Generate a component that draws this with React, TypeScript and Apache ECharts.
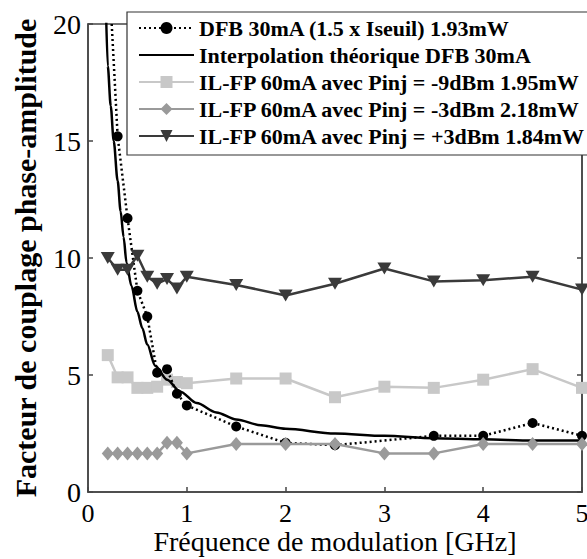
import React, { useEffect, useRef } from 'react';
import * as echarts from 'echarts';

const FONT = 'Liberation Serif';

// DFB 30mA measured points
const dfbFreq = [0.2, 0.3, 0.4, 0.5, 0.6, 0.7, 0.8, 0.9, 1.0, 1.5, 2.0, 2.5, 3.5, 4.0, 4.5, 5.0];
const dfbValues = [23.2, 15.2, 11.7, 8.6, 7.5, 5.1, 5.25, 4.2, 3.7, 2.8, 2.1, 2.0, 2.4, 2.4, 2.95, 2.4];

// Theoretical interpolation curve
const interpFreq = [0.18, 0.2, 0.23, 0.26, 0.3, 0.33, 0.36, 0.39, 0.44, 0.5, 0.55, 0.6, 0.68, 0.8, 0.93, 1.1, 1.3, 1.5, 1.75, 2.0, 2.5, 3.0, 3.5, 4.0, 4.5, 5.0];
const interpValues = [21, 18.2, 16.5, 15.0, 13.3, 12.0, 10.9, 9.8, 8.8, 7.7, 7.0, 6.3, 5.4, 4.8, 4.3, 3.8, 3.4, 3.1, 2.85, 2.7, 2.5, 2.4, 2.3, 2.25, 2.2, 2.2];

// IL-FP 60mA points
const ilfpFreq = [0.2, 0.3, 0.4, 0.5, 0.6, 0.7, 0.8, 0.9, 1.0, 1.5, 2.0, 2.5, 3.0, 3.5, 4.0, 4.5, 5.0];
const ilfpM9 = [5.85, 4.9, 4.9, 4.45, 4.45, 4.5, 4.8, 4.7, 4.65, 4.85, 4.85, 4.05, 4.5, 4.45, 4.8, 5.25, 4.45];
const ilfpM3 = [1.65, 1.65, 1.65, 1.65, 1.65, 1.65, 2.1, 2.1, 1.65, 2.05, 2.05, 2.05, 1.65, 1.65, 2.05, 2.05, 2.05];
const ilfpP3 = [10.0, 9.5, 9.5, 10.1, 9.2, 8.9, 9.1, 8.7, 9.2, 8.85, 8.4, 8.9, 9.55, 9.0, 9.05, 9.2, 8.65];

const names = [
  'DFB 30mA (1.5 x Iseuil) 1.93mW',
  'Interpolation théorique DFB 30mA',
  'IL-FP 60mA avec Pinj = -9dBm 1.95mW',
  'IL-FP 60mA avec Pinj = -3dBm 2.18mW',
  'IL-FP 60mA avec Pinj = +3dBm 1.84mW',
];

const xTitle = 'Fréquence de modulation [GHz]';
const yTitle = 'Facteur de couplage phase-amplitude';

const zip = (xs: number[], ys: number[]) => xs.map((x, i) => [x, ys[i]]);

export default function App() {
  const ref = useRef<HTMLDivElement>(null);
  useEffect(() => {
    const chart = echarts.init(ref.current!, null, { renderer: 'svg' });
    const axisColor = '#444';
    const option: any = {
      animation: false,
      backgroundColor: '#fff',
      textStyle: { fontFamily: FONT },
      grid: {
        left: 88, right: 5, top: 24, bottom: 67,
        show: true, borderColor: axisColor, borderWidth: 1.5,
        outerBoundsMode: 'none',
      },
      legend: {
        orient: 'vertical',
        left: 127,
        top: 12,
        padding: [5, 60, 8, 11],
        itemGap: 5,
        itemWidth: 55,
        itemHeight: 15,
        backgroundColor: '#fff',
        borderColor: '#333',
        borderWidth: 1.2,
        borderRadius: 0,
        align: 'left',
        textStyle: { fontFamily: FONT, fontWeight: 'bold', fontSize: 22, lineHeight: 22, color: '#000' },
        data: [
          { name: names[0] },
          { name: names[1], itemStyle: { opacity: 0 } },
          { name: names[2] },
          { name: names[3] },
          { name: names[4] },
        ],
      },
      xAxis: [{
        type: 'value', min: 0, max: 5, interval: 1,
        axisLine: { show: true, onZero: false, lineStyle: { color: axisColor, width: 1.5 } },
        axisTick: { show: true, inside: true, length: 5, lineStyle: { color: axisColor, width: 1.5 } },
        axisLabel: { fontFamily: FONT, fontSize: 26, lineHeight: 22, color: '#000', margin: 10, showMinLabel: true, showMaxLabel: true },
        splitLine: { show: false },
        name: xTitle,
        nameLocation: 'middle',
        nameGap: 35,
        nameMoveOverlap: false,
        nameTextStyle: { fontFamily: FONT, fontSize: 28, color: '#000' },
      }],
      yAxis: [{
        type: 'value', min: 0, max: 20, interval: 5, position: 'left',
        axisLine: { show: true, onZero: false, lineStyle: { color: axisColor, width: 1.5 } },
        axisTick: { show: true, inside: true, length: 5, lineStyle: { color: axisColor, width: 1.5 } },
        axisLabel: { fontFamily: FONT, fontSize: 28, color: '#000', margin: 7, showMinLabel: true, showMaxLabel: true },
        splitLine: { show: false },
        name: yTitle,
        nameLocation: 'middle',
        nameGap: 48,
        nameMoveOverlap: false,
        nameTextStyle: { fontFamily: FONT, fontSize: 30, fontWeight: 'bold', color: '#000' },
      }, {
        type: 'value', min: 0, max: 20, interval: 5, position: 'right',
        axisLine: { show: true, onZero: false, lineStyle: { color: axisColor, width: 1.5 } },
        axisTick: { show: true, inside: true, length: 5, lineStyle: { color: axisColor, width: 1.5 } },
        axisLabel: { show: false },
        splitLine: { show: false },
      }],
      series: [
        {
          name: names[0], type: 'line', yAxisIndex: 0,
          data: zip(dfbFreq, dfbValues),
          symbol: 'circle', symbolSize: 10,
          lineStyle: { color: '#000', width: 2.5, type: [2, 3] },
          itemStyle: { color: '#000' },
          z: 3,
        },
        {
          name: names[1], type: 'line', yAxisIndex: 0,
          data: zip(interpFreq, interpValues),
          symbol: 'none', smooth: 0.3, smoothMonotone: 'x',
          lineStyle: { color: '#000', width: 2.5 },
          itemStyle: { color: '#000' },
          z: 4,
        },
        {
          name: names[2], type: 'line', yAxisIndex: 0,
          data: zip(ilfpFreq, ilfpM9),
          symbol: 'rect', symbolSize: 12,
          lineStyle: { color: '#c8c8c8', width: 2.5 },
          itemStyle: { color: '#c8c8c8' },
          z: 2,
        },
        {
          name: names[3], type: 'line', yAxisIndex: 0,
          data: zip(ilfpFreq, ilfpM3),
          symbol: 'diamond', symbolSize: [12, 14],
          lineStyle: { color: '#9a9a9a', width: 2.5 },
          itemStyle: { color: '#9a9a9a' },
          z: 5,
        },
        {
          name: names[4], type: 'line', yAxisIndex: 0,
          data: zip(ilfpFreq, ilfpP3),
          symbol: 'triangle', symbolSize: [14, 12], symbolRotate: 180,
          lineStyle: { color: '#3a3a3a', width: 2.5 },
          itemStyle: { color: '#3a3a3a' },
          z: 5,
        },
      ],
    };
    chart.setOption(option);
    return () => chart.dispose();
  }, []);
  return (
    <div
      ref={ref}
      style={{ position: 'fixed', left: 0, top: 0, width: 587, height: 559, background: '#fff' }}
    />
  );
}
